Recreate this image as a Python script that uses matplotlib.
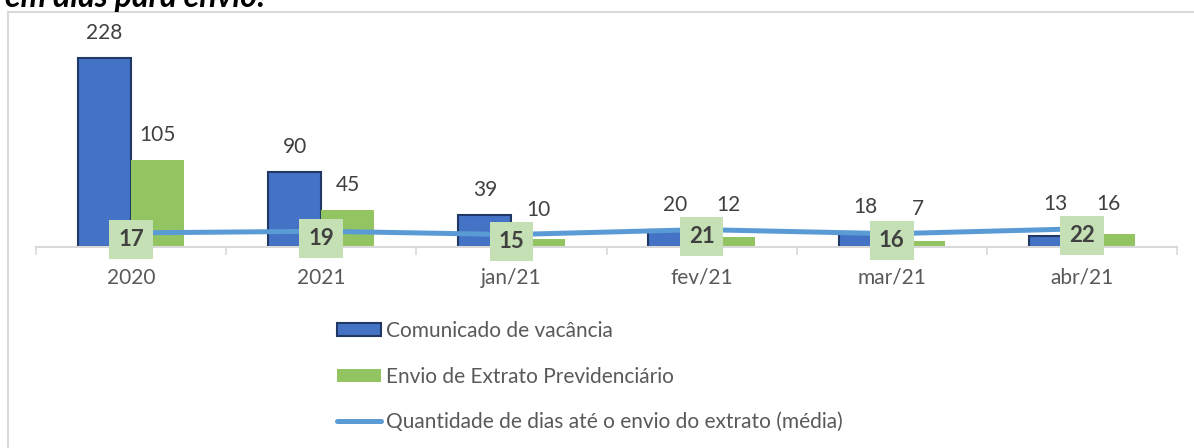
import numpy as np
import matplotlib.pyplot as plt
from matplotlib.patches import Patch, Rectangle
from matplotlib.lines import Line2D

plt.rcParams['font.family'] = ['Lato', 'DejaVu Sans']

# ---- Data
categorias = ["2020", "2021", "jan/21", "fev/21", "mar/21", "abr/21"]
comunicado = [228, 90, 39, 20, 18, 13]
envio = [105, 45, 10, 12, 7, 16]
dias_media = [17, 19, 15, 21, 16, 22]

azul = "#4472C4"
azul_borda = "#1F3864"
verde = "#93C462"
linha = "#5B9BD5"
caixa = "#C5E0B4"
texto = "#404040"

W, H = 1194, 448
fig = plt.figure(figsize=(W/100., H/100.), dpi=100)

# frame of the original chart area (partly cropped)
fig.patches.append(Rectangle((8./W, -0.2), 1.3, 1.2 - 11.5/H,
                             transform=fig.transFigure, fill=False,
                             edgecolor="#D9D9D9", lw=1.5, clip_on=False))
fig.text(5./W, 1 - 7./H, "em dias para envio:", fontsize=23, fontweight="bold",
         fontstyle="italic", color="black", va="baseline", ha="left")

ax = fig.add_axes([36./W, (H-247.)/H, 1141./W, 227./H])
x = np.arange(len(categorias))
w = 0.28

ax.bar(x - w/2, comunicado, w, color=azul, edgecolor=azul_borda, lw=1.5, zorder=2)
ax.bar(x + w/2, envio, w, color=verde, edgecolor="none", zorder=2)
ax.plot(x, dias_media, color=linha, lw=3.6, solid_capstyle="round", zorder=3)

ax.set_xlim(-0.5, len(categorias) - 0.5)
ax.set_ylim(0, 227./0.829)

# value labels sit above the bar, or above the line if the line is higher
for xi, v, d in zip(x, comunicado, dias_media):
    ax.annotate(str(v), (xi - w/2, max(v, d)), xytext=(0, 18), textcoords="offset points",
                ha="center", va="center", fontsize=15, color=texto)
for xi, v, d in zip(x, envio, dias_media):
    ax.annotate(str(v), (xi + w/2, max(v, d)), xytext=(0, 18), textcoords="offset points",
                ha="center", va="center", fontsize=15, color=texto)
for xi, v in zip(x, dias_media):
    ax.annotate(str(v), (xi, v), xytext=(0, -5), textcoords="offset points",
                ha="center", va="center", fontsize=16, fontweight="bold",
                color=texto, zorder=5,
                bbox=dict(boxstyle="square,pad=0.4", fc=caixa, ec="none"))

for s in ["top", "left", "right"]:
    ax.spines[s].set_visible(False)
ax.spines["bottom"].set_color("#D9D9D9")
ax.spines["bottom"].set_linewidth(1.5)
ax.set_yticks([])
ax.set_xticks(x)
ax.set_xticklabels(categorias, fontsize=15, color="#595959")
ax.tick_params(axis="x", which="major", length=0, pad=15)
ax.set_xticks(np.arange(-0.5, len(categorias)), minor=True)
ax.tick_params(axis="x", which="minor", length=5.5, width=1.2, color="#D9D9D9")

handles = [
    Patch(facecolor=azul, edgecolor=azul_borda, lw=1.5),
    Patch(facecolor=verde, edgecolor="none"),
    Line2D([0], [0], color=linha, lw=3.6, solid_capstyle="round"),
]
labels = ["Comunicado de vacância", "Envio de Extrato Previdenciário",
          "Quantidade de dias até o envio do extrato (média)"]
leg = fig.legend(handles, labels, loc="upper left", bbox_to_anchor=(337./W, 1 - 321./H),
                 frameon=False, fontsize=15, labelcolor="#595959",
                 handlelength=2.1, handleheight=0.6, handletextpad=0.25,
                 labelspacing=1.23, borderpad=0, borderaxespad=0)

fig.savefig("out.png", dpi=100)
